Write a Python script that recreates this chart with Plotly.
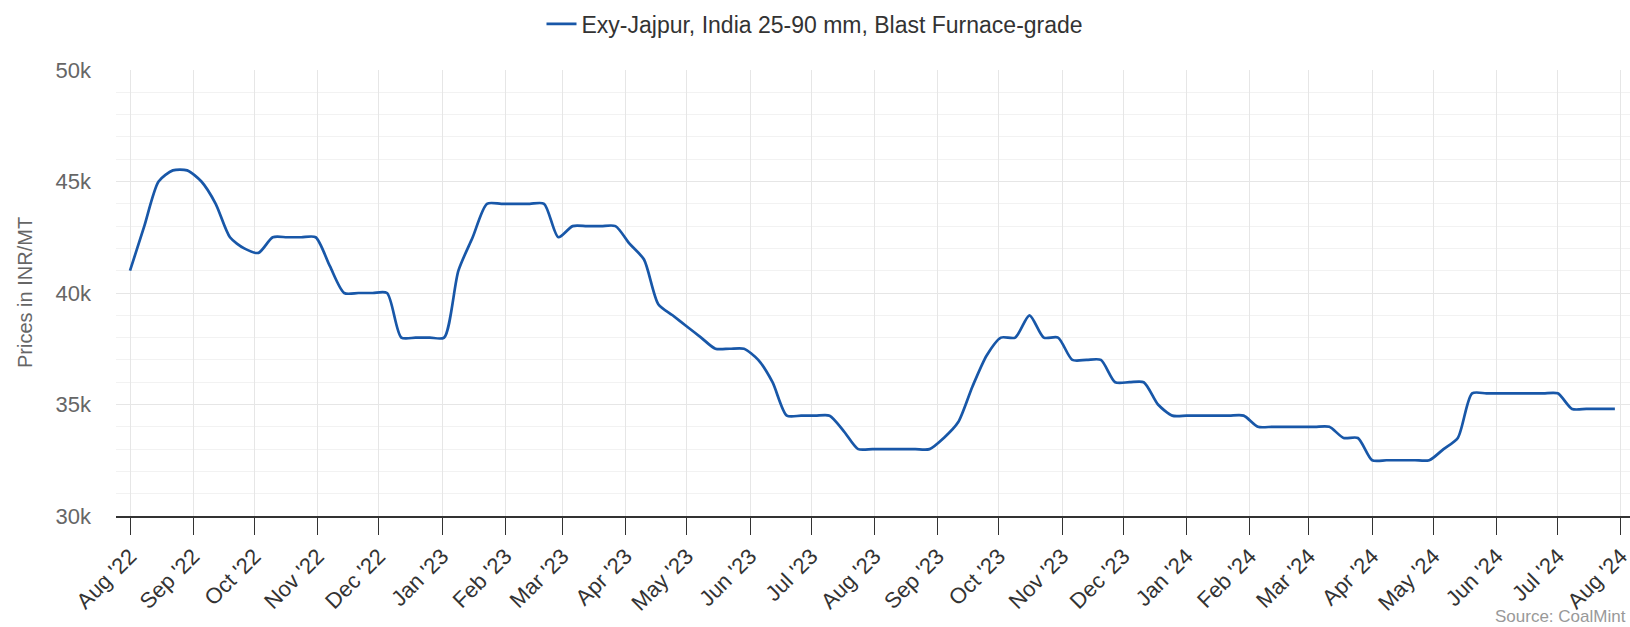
import plotly.graph_objects as go

series_name = "Exy-Jajpur, India 25-90 mm, Blast Furnace-grade"

dates = [
    "2022-08-01", "2022-08-08", "2022-08-15", "2022-08-22", "2022-08-29",
    "2022-09-05", "2022-09-12", "2022-09-19", "2022-09-26", "2022-10-03",
    "2022-10-10", "2022-10-17", "2022-10-24", "2022-10-31", "2022-11-07",
    "2022-11-14", "2022-11-21", "2022-11-28", "2022-12-05", "2022-12-12",
    "2022-12-19", "2022-12-26", "2023-01-02", "2023-01-09", "2023-01-16",
    "2023-01-23", "2023-01-30", "2023-02-06", "2023-02-13", "2023-02-20",
    "2023-02-27", "2023-03-06", "2023-03-13", "2023-03-20", "2023-03-27",
    "2023-04-03", "2023-04-10", "2023-04-17", "2023-04-24", "2023-05-01",
    "2023-05-08", "2023-05-15", "2023-05-22", "2023-05-29", "2023-06-05",
    "2023-06-12", "2023-06-19", "2023-06-26", "2023-07-03", "2023-07-10",
    "2023-07-17", "2023-07-24", "2023-07-31", "2023-08-07", "2023-08-14",
    "2023-08-21", "2023-08-28", "2023-09-04", "2023-09-11", "2023-09-18",
    "2023-09-25", "2023-10-02", "2023-10-09", "2023-10-16", "2023-10-23",
    "2023-10-30", "2023-11-06", "2023-11-13", "2023-11-20", "2023-11-27",
    "2023-12-04", "2023-12-11", "2023-12-18", "2023-12-25", "2024-01-01",
    "2024-01-08", "2024-01-15", "2024-01-22", "2024-01-29", "2024-02-05",
    "2024-02-12", "2024-02-19", "2024-02-26", "2024-03-04", "2024-03-11",
    "2024-03-18", "2024-03-25", "2024-04-01", "2024-04-08", "2024-04-15",
    "2024-04-22", "2024-04-29", "2024-05-06", "2024-05-13", "2024-05-20",
    "2024-05-27", "2024-06-03", "2024-06-10", "2024-06-17", "2024-06-24",
    "2024-07-01", "2024-07-08", "2024-07-15", "2024-07-22", "2024-07-29",
]

prices = [
    41000, 43000, 45000, 45500, 45500,
    45000, 44000, 42500, 42000, 41800,
    42500, 42500, 42500, 42500, 41200,
    40000, 40000, 40000, 40000, 38000,
    38000, 38000, 38000, 41000, 42500,
    44000, 44000, 44000, 44000, 44000,
    42500, 43000, 43000, 43000, 43000,
    42200, 41500, 39500, 39000, 38500,
    38000, 37500, 37500, 37500, 37000,
    36000, 34500, 34500, 34500, 34500,
    33800, 33000, 33000, 33000, 33000,
    33000, 33000, 33500, 34200, 35800,
    37200, 38000, 38000, 39000, 38000,
    38000, 37000, 37000, 37000, 36000,
    36000, 36000, 35000, 34500, 34500,
    34500, 34500, 34500, 34500, 34000,
    34000, 34000, 34000, 34000, 34000,
    33500, 33500, 32500, 32500, 32500,
    32500, 32500, 33000, 33500, 35500,
    35500, 35500, 35500, 35500, 35500,
    35500, 34800, 34800, 34800, 34800,
]

month_ticks = [
    "2022-08-01", "2022-09-01", "2022-10-01", "2022-11-01", "2022-12-01",
    "2023-01-01", "2023-02-01", "2023-03-01", "2023-04-01", "2023-05-01",
    "2023-06-01", "2023-07-01", "2023-08-01", "2023-09-01", "2023-10-01",
    "2023-11-01", "2023-12-01", "2024-01-01", "2024-02-01", "2024-03-01",
    "2024-04-01", "2024-05-01", "2024-06-01", "2024-07-01", "2024-08-01",
]
month_labels = [
    "Aug '22", "Sep '22", "Oct '22", "Nov '22", "Dec '22",
    "Jan '23", "Feb '23", "Mar '23", "Apr '23", "May '23",
    "Jun '23", "Jul '23", "Aug '23", "Sep '23", "Oct '23",
    "Nov '23", "Dec '23", "Jan '24", "Feb '24", "Mar '24",
    "Apr '24", "May '24", "Jun '24", "Jul '24", "Aug '24",
]

y_ticks = [30000, 35000, 40000, 45000, 50000]
y_labels = ["30k", "35k", "40k", "45k", "50k"]

FONT = "Liberation Sans, Arial, Helvetica, sans-serif"

fig = go.Figure()
fig.add_trace(go.Scatter(
    x=dates, y=prices, mode="lines", name=series_name, showlegend=True,
    line=dict(color="#1857a8", width=2.7, shape="spline", smoothing=0.7),
))

fig.update_layout(
    width=1630, height=627,
    margin=dict(l=116, r=0, t=70, b=111, autoexpand=False),
    paper_bgcolor="white", plot_bgcolor="white",
    font=dict(family=FONT),
    showlegend=True,
    legend=dict(
        orientation="h", xref="container", yref="container",
        x=0.5, xanchor="center", y=1 - 24 / 627, yanchor="middle",
        font=dict(size=23, color="#333333", family=FONT),
    ),
    xaxis=dict(
        type="date", automargin=False,
        range=["2022-07-25 03:00", "2024-08-05 10:00"],
        tickmode="array", tickvals=month_ticks, ticktext=month_labels,
        tickangle=-45, ticks="outside", ticklen=17, tickcolor="#333333", tickwidth=1,
        ticklabeloverflow="allow",
        showline=True, linecolor="#333333", linewidth=1.5,
        showgrid=True, gridcolor="#e6e6e6", gridwidth=1,
        tickfont=dict(size=22, color="#333333", family=FONT),
        zeroline=False,
    ),
    yaxis=dict(
        range=[30000, 50000], automargin=False,
        tickmode="array", tickvals=y_ticks, ticktext=y_labels,
        showgrid=True, gridcolor="#e6e6e6", gridwidth=1,
        tickfont=dict(size=22, color="#666666", family=FONT),
        ticks="", ticklabelstandoff=24,
        minor=dict(tickmode="linear", tick0=30000, dtick=1000, showgrid=True,
                   gridcolor="#f2f2f2", ticks=""),
        zeroline=False, showline=False,
    ),
    annotations=[
        dict(text="Prices in INR/MT", xref="paper", yref="paper", x=0, y=0.5,
             xshift=-91, xanchor="center", yanchor="middle", textangle=-90,
             showarrow=False, font=dict(size=20, color="#666666", family=FONT)),
        dict(text="Source: CoalMint", xref="paper", yref="paper", x=1, y=-(616 - 516) / 446,
             xanchor="right", yanchor="middle", xshift=-2, showarrow=False,
             font=dict(size=17, color="#999999", family=FONT)),
    ],
)

fig.write_html(
    "out.html",
    config={"displayModeBar": False},
    post_script="document.body.style.margin='0';document.body.style.overflow='hidden';",
)
